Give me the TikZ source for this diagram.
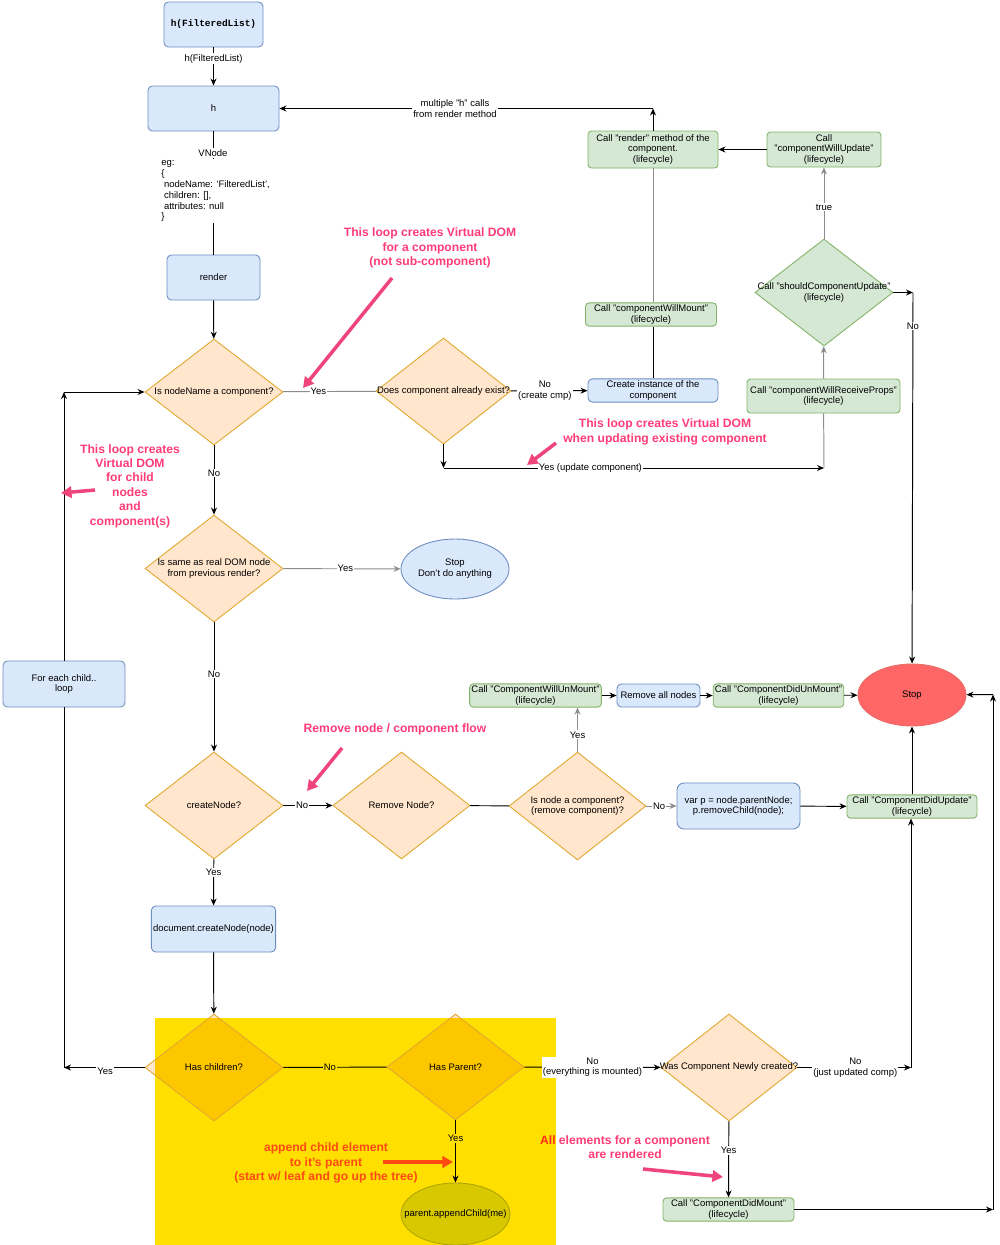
\documentclass[tikz,border=0pt]{standalone}
\usepackage{fontspec}
\setmainfont{Liberation Sans}
\setmonofont{Liberation Mono}
\usetikzlibrary{shapes.geometric,arrows.meta}

\definecolor{bluef}{HTML}{DAE8FC}
\definecolor{bluel}{HTML}{6C8EBF}
\definecolor{greenf}{HTML}{D5E8D4}
\definecolor{greenl}{HTML}{82B366}
\definecolor{orf}{HTML}{FFE6CC}
\definecolor{orl}{HTML}{E0A82E}
\definecolor{yel}{HTML}{FFDF00}
\definecolor{dkor}{HTML}{FDC700}
\definecolor{stopf}{HTML}{FF6666}
\definecolor{stopl}{HTML}{EA6B66}
\definecolor{olivef}{HTML}{D7C800}
\definecolor{olivel}{HTML}{B0A500}
\definecolor{pinkt}{HTML}{FF3C78}
\definecolor{pinka}{HTML}{F0457C}
\definecolor{oranget}{HTML}{FF4A12}
\definecolor{redt}{HTML}{FF2F1A}
\definecolor{greyl}{HTML}{8C8C8C}

\tikzset{
  base/.style={font=\fontsize{5.4}{6.2}\selectfont, align=center, inner sep=1pt},
  wh/.style 2 args={minimum width=#1*0.02cm, minimum height=#2*0.02cm},
  bluebox/.style={base, draw=bluel, fill=bluef, rounded corners=2.5pt, line width=0.5pt},
  greenbox/.style={base, draw=greenl, fill=greenf, rounded corners=2pt, line width=0.5pt},
  decision/.style={diamond, draw=orl, fill=orf, inner sep=0pt, line width=0.5pt},
  oval/.style={ellipse, inner sep=0pt, line width=0.5pt},
  lbl/.style={base, fill=white, inner sep=0.6pt},
  arr/.style={line width=0.55pt, -{Stealth[length=4pt,width=3.4pt]}},
  garr/.style={arr, draw=greyl},
  gline/.style={line width=0.55pt, draw=greyl},
  ann/.style={font=\bfseries\fontsize{6.9}{8.2}\selectfont, align=center, text=pinkt, inner sep=0pt},
  annarr/.style={line width=2pt, draw=pinka, -{Triangle[length=6pt,width=6.5pt]}},
}

\begin{document}
\begin{tikzpicture}[x=0.02cm,y=-0.02cm]
\useasboundingbox (0,0) rectangle (1000,1245);
\coordinate (yl) at (155,1018);
\coordinate (yr) at (556,1245);
\fill[yel] (yl) rectangle (yr);

\node[bluebox,wh={99}{45}] (hfl) at (213.5,24.5) {\ttfamily\bfseries h(FilteredList)};
\node[bluebox,wh={131}{45}] (h) at (213.5,108.5) {h};
\node[bluebox,wh={93}{45}] (render) at (213.5,277.5) {render};
\node[decision,wh={138}{106},label={[base]center:Is nodeName a component?}] (isc) at (214,392) {};
\node[decision,wh={135}{106},label={[base]center:Does component already exist?}] (exist) at (443.5,391) {};
\node[bluebox,wh={130}{23}] (create) at (653,390.5) {Create instance of the\\component};
\node[greenbox,wh={131}{23}] (cwm) at (651,314.5) {Call "componentWillMount"\\(lifecycle)};
\node[greenbox,wh={130}{37}] (rmeth) at (653,149.5) {Call "render" method of the\\component.\\(lifecycle)};
\node[greenbox,wh={114}{35}] (cwu) at (824,149.5) {Call\\"componentWillUpdate"\\(lifecycle)};
\node[decision,draw=greenl,fill=greenf,wh={138}{107},label={[base]center:Call "shouldComponentUpdate"\\(lifecycle)}] (scu) at (824,292.5) {};
\node[greenbox,wh={153}{34}] (cwrp) at (823.5,396) {Call "componentWillReceiveProps"\\(lifecycle)};
\node[bluebox,wh={122}{46}] (fec) at (64,684) {For each child..\\loop};
\node[decision,wh={138}{107},label={[base]center:Is same as real DOM node\\from previous render?}] (same) at (214,568.5) {};
\node[oval,draw=bluel,fill=bluef,wh={108}{60},label={[base]center:Stop\\Don't do anything}] (stopb) at (455,569) {};
\node[decision,wh={138}{107},label={[base]center:createNode?}] (cn) at (214,805.5) {};
\node[decision,wh={137}{107},label={[base]center:Remove Node?}] (rn) at (401.5,805.5) {};
\node[decision,wh={137}{108},label={[base]center:Is node a component?\\(remove component)?}] (inc) at (577.5,806) {};
\node[greenbox,wh={131}{23}] (cwun) at (535.5,695.5) {Call "ComponentWillUnMount"\\(lifecycle)};
\node[bluebox,wh={83}{23}] (ran) at (658.5,695.5) {Remove all nodes};
\node[greenbox,wh={129}{23}] (cdun) at (778.5,695.5) {Call "ComponentDidUnMount"\\(lifecycle)};
\node[oval,draw=stopl,fill=stopf,wh={108}{62},label={[base]center:Stop}] (stopr) at (912,695) {};
\node[bluebox,rounded corners=4pt,wh={123}{46}] (varp) at (738.5,806) {var p = node.parentNode;\\p.removeChild(node);};
\node[greenbox,wh={130}{23}] (cdupd) at (912,806.5) {Call "ComponentDidUpdate"\\(lifecycle)};
\node[bluebox,wh={123}{46}] (dcn) at (213.5,929) {document.createNode(node)};
\node[decision,wh={138}{107},path picture={\fill[dkor] (yl) rectangle (yr);},label={[base]center:Has children?}] (hasch) at (214,1067.5) {};
\node[decision,wh={137}{106},path picture={\fill[dkor] (yl) rectangle (yr);},label={[base]center:Has Parent?}] (hasp) at (455.5,1067) {};
\node[oval,draw=olivel,fill=olivef,wh={109}{62},label={[base]center:parent.appendChild(me)}] (app) at (455.5,1214) {};
\node[decision,wh={136}{107},label={[base]center:Was Component Newly created?}] (wcn) at (729,1067.5) {};
\node[greenbox,wh={131}{23}] (cdm) at (728.5,1209.5) {Call "ComponentDidMount"\\(lifecycle)};

\coordinate (rtop) at (653,108.5);
\coordinate (sright) at (913,292.5);
\coordinate (ebot) at (443.5,468);
\coordinate (ubot) at (824,468);
\coordinate (ltop) at (64,392);
\coordinate (lbot) at (64,1067.5);
\coordinate (wright) at (911,1067.5);
\coordinate (rb) at (993,1209.5);
\coordinate (rt) at (993,694.5);

\draw[arr] (hfl) -- node[lbl,pos=0.3]{h(FilteredList)} (h);
\draw[line width=0.55pt] (h) -- (render);
\node[lbl] (vn) at (213,153) {VNode};
\node[lbl,align=left,anchor=north west] (eg) at (160,159) {eg:\\\{\\\ nodeName: `FilteredList',\\\ children: [],\\\ attributes: null\\\}};
\draw[arr] (render) -- (isc);
\draw[gline] (isc) -- node[lbl,pos=0.38]{Yes} (exist);
\draw[arr] (exist) -- node[lbl,pos=0.44]{No\\(create cmp)} (create);
\draw[line width=0.55pt] (create.north) -- (create.north |- cwm.south);
\draw[gline] (cwm.north -| rmeth.south) -- (rmeth.south);
\draw[arr] (rmeth) -- (rtop);
\draw[arr] (rtop) -- node[lbl,pos=0.53]{multiple "h" calls\\from render method} (h);
\draw[arr] (cwu) -- (rmeth);
\draw[garr] (scu) -- node[lbl,pos=0.44]{true} (cwu);
\draw[arr] (scu) -- (sright);
\draw[arr] (sright) -- node[lbl,pos=0.09]{No} (stopr);
\draw[garr] (cwrp) -- (scu);
\draw[arr] (exist) -- (ebot);
\draw[arr] (ebot) -- node[lbl,pos=0.386]{Yes (update component)} (ubot);
\draw[gline] (ubot) -- (cwrp);
\draw[arr] (fec) -- (ltop);
\draw[arr] (ltop) -- (isc);
\draw[arr] (hasch) -- node[lbl,pos=0.49,yshift=-2pt]{Yes} (lbot);
\draw[line width=0.55pt] (lbot) -- (fec);
\draw[arr] (isc) -- node[lbl,pos=0.4]{No} (same);
\draw[garr] (same) -- node[lbl,pos=0.53]{Yes} (stopb);
\draw[arr] (same) -- node[lbl,pos=0.4]{No} (cn);
\draw[arr] (cn) -- node[lbl,pos=0.38]{No} (rn);
\draw[line width=0.55pt] (rn) -- (inc);
\draw[garr] (inc.north) -- node[lbl,pos=0.38]{Yes} (inc.north |- cwun.south);
\draw[arr] (cwun) -- (ran);
\draw[arr] (ran) -- (cdun);
\draw[arr] (cdun) -- (stopr);
\draw[garr] (inc) -- node[lbl,pos=0.42]{No} (varp);
\draw[arr] (varp) -- (cdupd);
\draw[arr] (cdupd) -- (stopr);
\draw[arr] (cn) -- node[lbl,pos=0.28]{Yes} (dcn);
\draw[arr] (dcn) -- (hasch);
\draw[line width=0.55pt] (hasch) -- node[lbl,fill=yel,pos=0.45]{No} (hasp);
\draw[arr] (hasp) -- node[lbl,fill=yel,pos=0.29]{Yes} (app);
\draw[arr] (hasp) -- node[lbl,pos=0.5]{No\\(everything is mounted)} (wcn);
\draw[arr] (wcn) -- node[lbl,pos=0.51]{No\\(just updated comp)} (wright);
\draw[arr] (wright) -- (wright |- cdupd.south);
\draw[arr] (wcn) -- node[lbl,pos=0.38]{Yes} (cdm);
\draw[arr] (cdm) -- (rb);
\draw[arr] (rb) -- (rt);
\draw[arr] (rt) -- (stopr);

\node[ann] (ann1) at (430,248) {This loop creates Virtual DOM\\for a component\\(not sub-component)};
\coordinate (a1s) at (392,278);
\coordinate (a1e) at (303,388);
\draw[annarr] (a1s) -- (a1e);
\node[ann] (ann2) at (665,432) {This loop creates Virtual DOM\\when updating existing component};
\coordinate (a2s) at (556,443);
\coordinate (a2e) at (527,465);
\draw[annarr] (a2s) -- (a2e);
\node[ann] (ann3) at (130,486) {This loop creates\\Virtual DOM\\for child\\nodes\\and\\component(s)};
\coordinate (a3s) at (95,490);
\coordinate (a3e) at (61,493);
\draw[annarr] (a3s) -- (a3e);
\node[ann] (ann4) at (395,729) {Remove node / component flow};
\coordinate (a4s) at (342,748);
\coordinate (a4e) at (307,791);
\draw[annarr] (a4s) -- (a4e);
\node[ann,text=oranget] (ann5) at (326,1163) {append child element\\to it's parent\\(start w/ leaf and go up the tree)};
\coordinate (a5s) at (383,1162);
\coordinate (a5e) at (453,1162);
\draw[annarr,draw=oranget] (a5s) -- (a5e);
\node[ann] (ann6) at (625,1147) {\textcolor{redt}{All} elements for a component\\are rendered};
\coordinate (a6s) at (643,1169);
\coordinate (a6e) at (723,1177);
\draw[annarr] (a6s) -- (a6e);
\end{tikzpicture}
\end{document}
